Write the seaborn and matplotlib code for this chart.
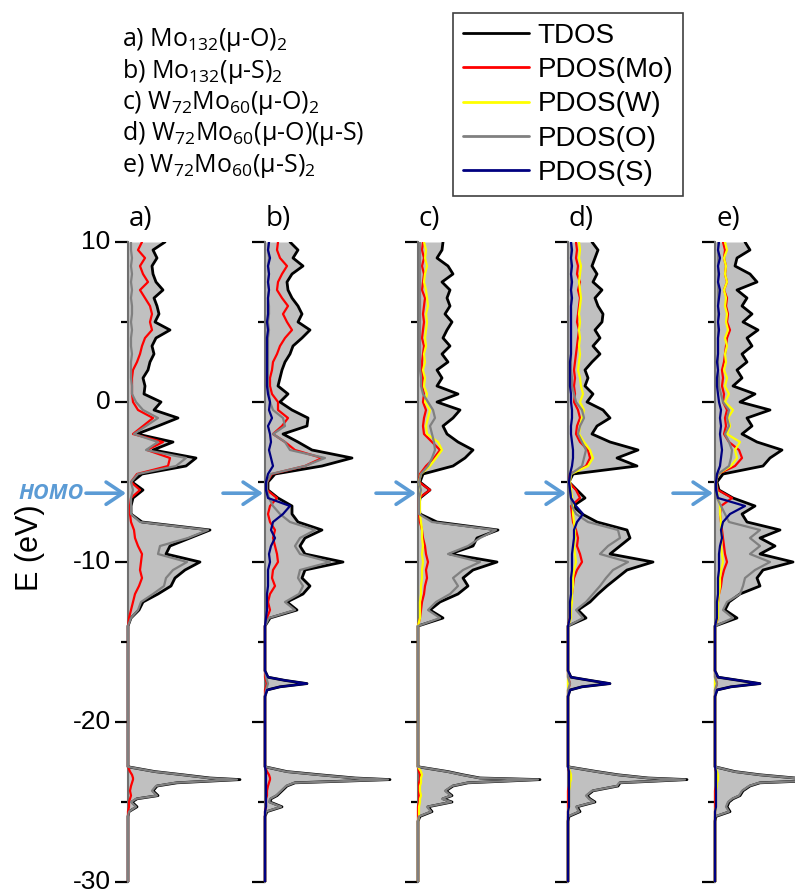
import numpy as np
import pandas as pd
import matplotlib
matplotlib.use("Agg")
import matplotlib.pyplot as plt
import seaborn as sns
from matplotlib.lines import Line2D

# ---------------- data (DOS in arbitrary units) ----------------
# energy grid (eV): dense valence/conduction region + sparse deep region
E_top = [10.0, 9.5, 9.0, 8.5, 8.0, 7.5, 7.0, 6.5, 6.0, 5.5,
         5.0, 4.5, 4.0, 3.5, 3.0, 2.5, 2.0, 1.5, 1.0, 0.5,
         0.0, -0.5, -1.0, -1.5, -2.0, -2.5, -3.0, -3.5, -4.0, -4.5,
         -5.0, -5.5, -6.0, -6.5, -7.0, -7.5, -8.0, -8.5, -9.0, -9.5,
         -10.0, -10.5, -11.0, -11.5, -12.0, -12.5, -13.0, -13.5, -14.0]
E_bot = [-14.5, -16.8, -17.2, -17.4, -17.6, -17.8, -18.0, -18.4,
         -22.8, -23.1, -23.3, -23.5, -23.6, -23.8, -24.0, -24.3,
         -24.6, -24.8, -25.0, -25.3, -25.6, -25.9, -26.2, -30.0]
energy = E_top + E_bot

panels = ["a)", "b)", "c)", "d)", "e)"]
series_names = ["TDOS", "PDOS(Mo)", "PDOS(W)", "PDOS(O)", "PDOS(S)"]
compounds = [r"a) Mo$\mathregular{_{132}}$(μ-O)$\mathregular{_2}$",
             r"b) Mo$\mathregular{_{132}}$(μ-S)$\mathregular{_2}$",
             r"c) W$\mathregular{_{72}}$Mo$\mathregular{_{60}}$(μ-O)$\mathregular{_2}$",
             r"d) W$\mathregular{_{72}}$Mo$\mathregular{_{60}}$(μ-O)(μ-S)",
             r"e) W$\mathregular{_{72}}$Mo$\mathregular{_{60}}$(μ-S)$\mathregular{_2}$"]
homo_level = [-5.7, -5.7, -5.7, -5.7, -5.7]
yticks_major = [-30, -20, -10, 0, 10]
yticks_minor = [-25, -15, -5, 5]

# ---- panel a) Mo132(mu-O)2
tdos_a = [37, 25, 29, 24, 25, 28, 35, 26, 29, 31,
          27, 42, 28, 24, 26, 22, 20, 15, 17, 16,
          33, 26, 50, 30, 9, 45, 25, 68, 58, 14,
          4, 15, 5, 3, 3, 14, 82, 62, 42, 38,
          72, 57, 47, 43, 30, 15, 11, 3, 0,
          0, 0, 0, 0, 0, 0, 0, 0,
          0, 27, 55, 82, 112, 49, 29, 25, 30, 9, 4, 9, 1, 0, 0, 0]
mo_a = [14, 10, 17, 12, 15, 20, 12, 17, 22, 24,
        22, 24, 17, 14, 12, 9, 5, 4, 4, 4,
        5, 10, 25, 15, 5, 35, 19, 42, 40, 9,
        3, 12, 3, 2, 2, 3, 6, 7, 10, 14,
        13, 12, 14, 11, 7, 5, 3, 1, 0,
        0, 0, 0, 0, 0, 0, 0, 0,
        0, 2, 4, 5, 5, 4, 3, 2, 3, 2, 1, 1, 0, 0, 0, 0]
o_a = [3, 3, 4, 3, 4, 3, 4, 3, 4, 4,
       3, 4, 3, 3, 4, 3, 3, 3, 4, 4,
       8, 15, 30, 18, 6, 30, 18, 58, 48, 10,
       3, 5, 3, 3, 3, 12, 80, 60, 32, 30,
       59, 45, 38, 36, 25, 13, 10, 3, 0,
       0, 0, 0, 0, 0, 0, 0, 0,
       0, 26, 54, 80, 109, 47, 28, 24, 29, 8, 3, 8, 1, 0, 0, 0]

# ---- panel b) Mo132(mu-S)2
tdos_b = [25, 33, 28, 38, 27, 22, 23, 27, 33, 37,
          33, 45, 37, 28, 25, 20, 17, 15, 13, 23,
          15, 27, 43, 42, 18, 33, 47, 87, 57, 10,
          3, 3, 13, 27, 27, 33, 57, 40, 35, 40,
          78, 40, 37, 45, 38, 22, 32, 5, 0,
          0, 0, 3, 20, 42, 15, 2, 0,
          0, 22, 55, 90, 125, 30, 22, 17, 12, 6, 5, 17, 2, 0, 0, 0]
mo_b = [13, 12, 15, 22, 17, 13, 12, 17, 23, 18,
        22, 27, 20, 15, 12, 8, 7, 5, 5, 7,
        13, 13, 23, 17, 8, 20, 30, 57, 40, 7,
        2, 2, 12, 5, 3, 5, 10, 8, 10, 12,
        13, 8, 7, 10, 5, 3, 5, 2, 0,
        0, 0, 0, 1, 2, 1, 0, 0,
        0, 2, 4, 5, 5, 4, 3, 2, 2, 1, 1, 1, 0, 0, 0, 0]
o_b = [4, 3, 4, 3, 4, 3, 4, 3, 4, 4,
       3, 4, 3, 3, 3, 3, 3, 3, 3, 4,
       5, 8, 18, 20, 8, 20, 25, 60, 40, 6,
       2, 2, 4, 8, 15, 25, 50, 35, 30, 35,
       65, 35, 33, 38, 34, 20, 30, 4, 0,
       0, 0, 1, 2, 3, 2, 1, 0,
       0, 21, 53, 88, 123, 29, 21, 16, 11, 5, 4, 16, 1, 0, 0, 0]
s_b = [4, 3, 5, 3, 4, 3, 4, 3, 3, 3,
       2, 3, 2, 2, 2, 2, 2, 2, 2, 3,
       5, 4, 7, 3, 5, 6, 4, 6, 8, 3,
       1, 1, 3, 25, 18, 8, 6, 10, 6, 4,
       5, 3, 3, 3, 2, 2, 2, 1, 0,
       0, 0, 3, 20, 42, 15, 2, 0,
       0, 1, 1, 1, 1, 1, 1, 1, 1, 1, 1, 1, 0, 0, 0, 0]

# ---- panel c) W72Mo60(mu-O)2
tdos_c = [25, 24, 19, 30, 35, 24, 32, 29, 32, 27,
          34, 29, 25, 32, 24, 30, 19, 24, 19, 40,
          19, 42, 35, 25, 29, 40, 55, 47, 35, 5,
          2, 12, 2, 1, 2, 19, 80, 59, 55, 32,
          79, 55, 45, 50, 40, 22, 12, 25, 0,
          0, 0, 0, 0, 0, 0, 0, 0,
          0, 30, 45, 62, 122, 50, 35, 28, 34, 25, 34, 10, 14, 2, 0, 0]
mo_c = [5, 4, 6, 4, 6, 5, 4, 7, 6, 5,
        6, 5, 4, 6, 5, 4, 4, 5, 4, 6,
        5, 8, 6, 5, 6, 14, 22, 16, 8, 2,
        1, 12, 1, 1, 1, 2, 4, 5, 7, 8,
        10, 8, 9, 7, 6, 4, 3, 2, 0,
        0, 0, 0, 0, 0, 0, 0, 0,
        0, 1, 2, 2, 2, 1, 1, 1, 1, 1, 1, 0, 0, 0, 0, 0]
w_c = [6, 8, 7, 9, 7, 6, 8, 9, 10, 8,
       9, 8, 7, 8, 6, 7, 5, 7, 6, 9,
       7, 12, 10, 8, 9, 20, 24, 18, 12, 3,
       1, 3, 2, 2, 2, 3, 4, 4, 5, 4,
       5, 4, 4, 3, 3, 2, 2, 2, 0,
       0, 0, 0, 0, 0, 0, 0, 0,
       0, 3, 4, 3, 3, 3, 2, 2, 3, 2, 2, 1, 1, 1, 0, 0]
o_c = [2, 2, 2, 2, 2, 2, 2, 2, 2, 2,
       2, 2, 2, 2, 2, 2, 2, 3, 3, 5,
       10, 15, 17, 12, 14, 16, 17, 14, 10, 3,
       1, 3, 1, 1, 1, 14, 78, 62, 50, 30,
       62, 45, 35, 40, 32, 18, 10, 22, 0,
       0, 0, 0, 0, 0, 0, 0, 0,
       0, 29, 44, 61, 120, 49, 34, 27, 33, 24, 33, 9, 13, 1, 0, 0]

# ---- panel d) W72Mo60(mu-O)(mu-S)
tdos_d = [24, 30, 27, 24, 29, 25, 34, 27, 30, 35,
          34, 27, 32, 25, 32, 24, 17, 20, 17, 25,
          19, 35, 42, 29, 24, 42, 70, 49, 69, 5,
          1, 9, 17, 5, 14, 29, 59, 62, 52, 42,
          85, 59, 49, 39, 30, 22, 10, 18, 0,
          0, 0, 3, 22, 42, 14, 2, 0,
          0, 29, 50, 80, 119, 52, 50, 25, 19, 22, 27, 9, 12, 1, 0, 0]
mo_d = [8, 9, 8, 10, 9, 12, 10, 12, 11, 10,
        9, 11, 10, 9, 8, 7, 6, 7, 6, 7,
        6, 10, 12, 9, 8, 12, 20, 22, 18, 2,
        1, 8, 12, 3, 4, 5, 8, 10, 9, 12,
        14, 9, 6, 5, 4, 3, 2, 2, 0,
        0, 0, 0, 1, 2, 1, 0, 0,
        0, 1, 1, 1, 1, 1, 1, 0, 0, 0, 0, 0, 0, 0, 0, 0]
w_d = [11, 12, 11, 13, 12, 11, 12, 13, 12, 11,
       12, 11, 12, 11, 12, 11, 10, 12, 13, 15,
       12, 16, 14, 12, 11, 16, 22, 25, 20, 3,
       2, 3, 4, 5, 5, 6, 7, 7, 6, 7,
       8, 6, 5, 5, 4, 4, 3, 3, 0,
       0, 0, 0, 0, 0, 0, 0, 0,
       0, 2, 3, 3, 3, 2, 2, 1, 1, 1, 1, 1, 0, 0, 0, 0]
o_d = [3, 3, 3, 3, 3, 3, 3, 3, 3, 3,
       3, 3, 3, 3, 3, 3, 3, 4, 4, 6,
       8, 14, 16, 12, 10, 14, 18, 16, 14, 3,
       1, 2, 3, 4, 8, 20, 50, 52, 40, 32,
       60, 45, 38, 32, 25, 18, 8, 15, 0,
       0, 0, 0, 1, 2, 1, 0, 0,
       0, 28, 49, 79, 117, 51, 49, 24, 18, 21, 26, 8, 11, 0, 0, 0]
s_d = [3, 4, 3, 4, 3, 4, 3, 4, 3, 3,
       3, 3, 3, 3, 3, 2, 2, 2, 2, 3,
       3, 4, 4, 3, 3, 4, 5, 5, 4, 2,
       1, 2, 3, 8, 15, 9, 6, 6, 5, 4,
       4, 4, 3, 3, 3, 2, 2, 2, 0,
       0, 0, 3, 22, 42, 14, 2, 0,
       0, 1, 1, 1, 1, 1, 1, 1, 1, 1, 1, 1, 0, 0, 0, 0]

# ---- panel e) W72Mo60(mu-S)2
tdos_e = [30, 35, 22, 20, 35, 42, 22, 32, 27, 37,
          28, 43, 32, 37, 27, 32, 22, 27, 18, 40,
          25, 55, 32, 37, 27, 42, 67, 55, 48, 8,
          2, 4, 18, 40, 27, 32, 65, 45, 60, 45,
          78, 48, 42, 45, 25, 14, 10, 22, 0,
          0, 0, 3, 24, 45, 16, 2, 0,
          0, 20, 45, 80, 125, 45, 35, 28, 25, 18, 14, 12, 15, 1, 0, 0]
mo_e = [8, 10, 9, 11, 10, 12, 9, 12, 11, 13,
        12, 15, 12, 11, 10, 9, 7, 8, 7, 9,
        8, 12, 10, 11, 9, 14, 24, 27, 20, 3,
        1, 3, 17, 6, 5, 6, 7, 8, 9, 10,
        12, 9, 7, 6, 4, 3, 2, 3, 0,
        0, 0, 0, 1, 2, 1, 0, 0,
        0, 1, 1, 1, 1, 1, 1, 0, 0, 0, 0, 0, 0, 0, 0, 0]
w_e = [10, 12, 9, 11, 10, 12, 9, 11, 10, 12,
       11, 13, 10, 12, 10, 11, 9, 12, 10, 14,
       10, 18, 13, 15, 12, 25, 20, 22, 16, 3,
       1, 2, 3, 5, 5, 6, 6, 7, 6, 7,
       8, 6, 5, 5, 4, 3, 3, 3, 0,
       0, 0, 0, 0, 0, 0, 0, 0,
       0, 2, 3, 3, 3, 2, 2, 1, 1, 1, 1, 1, 0, 0, 0, 0]
o_e = [3, 3, 3, 3, 3, 3, 3, 3, 3, 3,
       3, 3, 3, 3, 3, 3, 3, 4, 4, 6,
       8, 14, 12, 14, 10, 14, 17, 16, 14, 3,
       1, 2, 2, 6, 10, 14, 45, 35, 45, 35,
       55, 40, 30, 28, 25, 12, 8, 18, 0,
       0, 0, 0, 1, 2, 1, 0, 0,
       0, 19, 44, 79, 123, 44, 34, 27, 24, 17, 13, 11, 14, 0, 0, 0]
s_e = [4, 3, 5, 3, 4, 3, 5, 4, 3, 4,
       3, 4, 3, 3, 3, 2, 3, 2, 2, 3,
       4, 6, 5, 6, 5, 6, 7, 6, 5, 2,
       1, 1, 3, 30, 15, 8, 6, 7, 5, 4,
       4, 4, 3, 3, 3, 2, 2, 2, 0,
       0, 0, 3, 24, 45, 16, 2, 0,
       0, 1, 1, 1, 1, 1, 1, 1, 1, 1, 1, 1, 0, 0, 0, 0]

panel_data = [
    {"TDOS": tdos_a, "PDOS(Mo)": mo_a, "PDOS(O)": o_a},
    {"TDOS": tdos_b, "PDOS(Mo)": mo_b, "PDOS(O)": o_b, "PDOS(S)": s_b},
    {"TDOS": tdos_c, "PDOS(Mo)": mo_c, "PDOS(W)": w_c, "PDOS(O)": o_c},
    {"TDOS": tdos_d, "PDOS(Mo)": mo_d, "PDOS(W)": w_d, "PDOS(O)": o_d, "PDOS(S)": s_d},
    {"TDOS": tdos_e, "PDOS(Mo)": mo_e, "PDOS(W)": w_e, "PDOS(O)": o_e, "PDOS(S)": s_e},
]

# ---------------- styling ----------------
colors = {"TDOS": "#000000", "PDOS(Mo)": "#ff0000", "PDOS(W)": "#ffff00",
          "PDOS(O)": "#808080", "PDOS(S)": "#000080"}
widths = {"TDOS": 2.0, "PDOS(Mo)": 1.6, "PDOS(W)": 1.6, "PDOS(O)": 1.6, "PDOS(S)": 1.6}
fill_color = "#c0c0c0"
arrow_color = "#5b9bd5"

sns.set_theme(style="white")
plt.rcParams["font.family"] = ["Liberation Sans", "DejaVu Sans"]
plt.rcParams["text.color"] = "black"
plt.rcParams["axes.labelcolor"] = "black"
plt.rcParams["ytick.color"] = "black"
plt.rcParams["xtick.color"] = "black"
text_family = ["Open Sans", "DejaVu Sans"]

W, H = 795, 894
fig = plt.figure(figsize=(W / 100, H / 100), dpi=100)

axis_px = [128, 265, 418, 568, 715]
ax_w = 130
ax_bottom, ax_h = 12, 640

for k, (lab, pdata, xpx) in enumerate(zip(panels, panel_data, axis_px)):
    ax = fig.add_axes([(xpx - 2) / W, ax_bottom / H, ax_w / W, ax_h / H])
    df = pd.DataFrame({"E": energy})
    for name, vals in pdata.items():
        df[name] = vals
    ax.fill_betweenx(df["E"], 0, df["TDOS"], color=fill_color, lw=0, zorder=1)
    for name in series_names:
        if name not in pdata:
            continue
        sns.lineplot(data=df, x=name, y="E", orient="y", sort=True, estimator=None,
                     color=colors[name], lw=widths[name], ax=ax, legend=False,
                     zorder=2 + series_names.index(name))
    ax.set_xlim(-2, ax_w - 2)
    ax.set_ylim(-30, 10)
    for s in ["top", "right", "bottom"]:
        ax.spines[s].set_visible(False)
    ax.spines["left"].set_position(("data", 0))
    ax.spines["left"].set_color("#707070")
    ax.spines["left"].set_linewidth(1.5)
    ax.set_xticks([])
    ax.set_xlabel("")
    ax.set_ylabel("")
    ax.set_yticks(yticks_major)
    ax.set_yticks(yticks_minor, minor=True)
    ax.tick_params(axis="y", which="major", direction="out", length=9.5, width=1.6,
                   color="black", labelcolor="black", left=True, labelsize=19, pad=3)
    ax.tick_params(axis="y", which="minor", direction="out", length=5, width=1.6,
                   color="black", left=True)
    if k == 0:
        ax.set_yticklabels([str(t) for t in yticks_major])
        for t in ax.get_yticklabels():
            t.set_verticalalignment("center")
    else:
        ax.set_yticklabels([])
    ax.patch.set_alpha(0)
    ax.annotate(lab, xy=(0, 10), xytext=(1, 9), textcoords="offset pixels",
                fontsize=20, family=text_family, ha="left", va="bottom", color="black")
    ax.annotate("", xy=(-2, homo_level[k]), xytext=(-40, 0), textcoords="offset pixels",
                xycoords="data",
                arrowprops=dict(arrowstyle="->,head_length=0.6,head_width=0.4",
                                color=arrow_color, lw=2.6, mutation_scale=20,
                                shrinkA=0, shrinkB=0))
    if k == 0:
        ax.annotate("HOMO", xy=(0, homo_level[k]), xytext=(-44, 0),
                    textcoords="offset pixels", ha="right", va="center",
                    fontsize=15.5, fontweight="bold", fontstyle="italic",
                    color=arrow_color, family=text_family)

# y-axis title
fig.text(30 / W, 1 - 548 / H, "E (eV)", rotation=90, fontsize=22,
         ha="center", va="center", color="black")

# compound list (top left)
for i, txt in enumerate(compounds):
    fig.text(122 / W, 1 - (46 + 31.5 * i) / H, txt, fontsize=18,
             family=text_family, ha="left", va="baseline", color="black")

# legend
handles = [Line2D([0], [0], color=colors[n], lw=2) for n in series_names]
leg = fig.legend(handles, series_names, loc="upper left",
                 bbox_to_anchor=(453 / W, 1 - 13 / H), bbox_transform=fig.transFigure,
                 frameon=True, fancybox=False, edgecolor="#404040", framealpha=1,
                 fontsize=20, handlelength=2.4, handletextpad=0.3, labelspacing=0.3,
                 borderpad=0.35, borderaxespad=0, labelcolor="black")
leg.get_frame().set_linewidth(1.2)

fig.savefig("out.png", dpi=100)
